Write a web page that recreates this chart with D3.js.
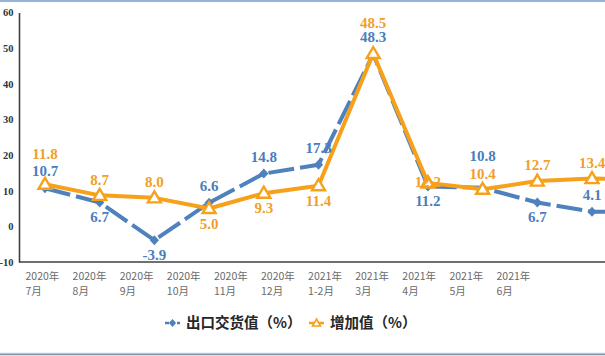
<!DOCTYPE html>
<html><head><meta charset="utf-8">
<script src="https://cdn.jsdelivr.net/npm/d3@7/dist/d3.min.js"></script>
<style>html,body{margin:0;padding:0;background:#fff;}svg{display:block;}</style>
</head><body>
<svg id="c" width="605" height="356"></svg>
<script>
// ---- data ----
const categories = ["2020年7月","2020年8月","2020年9月","2020年10月","2020年11月","2020年12月","2021年1-2月","2021年3月","2021年4月","2021年5月","2021年6月","2021年7月"];
const tickLabels = ["2020年7月","2020年8月","2020年9月","2020年10月","2020年11月","2020年12月","2021年1-2月","2021年3月","2021年4月","2021年5月","2021年6月"];
const exportValues = [10.7, 6.7, -3.9, 6.6, 14.8, 17.3, 48.3, 11.2, 10.8, 6.7, 4.1, 4.0];
const addedValues  = [11.8, 8.7, 8.0, 5.0, 9.3, 11.4, 48.5, 12.2, 10.4, 12.7, 13.4, 13.3];
const yTicks = [-10, 0, 10, 20, 30, 40, 50, 60];
const seriesNames = ["出口交货值（%）", "增加值（%）"];
// label placement codes (a = above, A = far above, b = below, c = on point)
const exportLabelPos = ["a","b","b","a","a","a","a","b","A","b","a"];
const addedLabelPos  = ["A","a","a","b","b","b","A","c","a","a","a"];

const blue = "#4f81bd", blueText = "#4a7ebb";
const orange = "#f7a11a", orangeText = "#f0a02a";
const hyphen = s => s.replace("\u2212", "-");

const svg = d3.select("#c");
// frame lines
svg.append("rect").attr("x",0).attr("y",0).attr("width",605).attr("height",2).attr("fill","#95b3d7");
svg.append("rect").attr("x",0).attr("y",352.5).attr("width",605).attr("height",1).attr("fill","#dbe5f1");
svg.append("rect").attr("x",0).attr("y",353.5).attr("width",605).attr("height",1.8).attr("fill","#8094ad");

const y = d3.scaleLinear().domain([-10, 60]).range([262, 12.5]);
const x = d3.scalePoint().domain(categories).range([45, 45 + 54.7 * 11]);
const xl = d3.scalePoint().domain(tickLabels).range([25, 25 + 47.1 * 10]);

// y axis
const yAxis = svg.append("g").attr("transform","translate(19,0)")
  .call(d3.axisLeft(y).tickValues(yTicks).tickSize(0).tickPadding(5.5).tickFormat(d => hyphen(d3.format("d")(d))));
yAxis.select(".domain").attr("stroke","#404040").attr("stroke-width",1.6);
yAxis.selectAll("text").attr("font-family","'Liberation Serif',serif").attr("font-weight","bold")
  .attr("font-size","10.5px").attr("fill","#333");

// x axis
const xAxis = svg.append("g").attr("transform","translate(0,262)")
  .call(d3.axisBottom(xl).tickSize(0).tickFormat(""));
xAxis.select(".domain").remove();
svg.append("line").attr("x1",19).attr("x2",605).attr("y1",262).attr("y2",262)
  .attr("stroke","#404040").attr("stroke-width",1.6);
xAxis.selectAll(".tick").each(function(d){
  const g = d3.select(this);
  const parts = d.split("年");
  const t = g.append("text").attr("text-anchor","start").attr("x",0)
    .attr("font-family","'Noto Sans CJK SC',sans-serif").attr("font-size","10.5px").attr("fill","#6a6a6a");
  t.append("tspan").attr("x",0).attr("y",17.8).text(parts[0]+"年");
  t.append("tspan").attr("x",0).attr("y",32.8).text(parts[1]);
});

// lines
const line = d3.line().x((d,i)=>x(categories[i])).y(d=>y(d));
svg.append("path").datum(exportValues).attr("d",line).attr("fill","none")
  .attr("stroke",blue).attr("stroke-width",4).attr("stroke-dasharray","26,6").attr("stroke-linejoin","round");
const diamond = "M0,-5L4.6,0L0,5L-4.6,0Z";
svg.append("g").selectAll("path").data(exportValues).join("path")
  .attr("d",diamond).attr("fill",blue)
  .attr("transform",(d,i)=>`translate(${x(categories[i])},${y(d)})`);

svg.append("path").datum(addedValues).attr("d",line).attr("fill","none")
  .attr("stroke",orange).attr("stroke-width",4).attr("stroke-linejoin","round");
const tri = "M0,-6.5L6.5,4.5L-6.5,4.5Z";
svg.append("g").selectAll("path").data(addedValues).join("path")
  .attr("d",tri).attr("fill","#fff").attr("stroke",orange).attr("stroke-width",2.4)
  .attr("transform",(d,i)=>`translate(${x(categories[i])},${y(d)})`);

// data labels
const offB = {a:-17, A:-32, b:14, c:-1};
const offO = {a:-16, A:-31, b:15, c:-1};
function labels(vals, pos, off, color){
  svg.append("g").selectAll("text").data(vals.slice(0,pos.length)).join("text")
    .attr("x",(d,i)=>x(categories[i]))
    .attr("y",(d,i)=>y(d)+off[pos[i]])
    .attr("dy","0.35em").attr("text-anchor","middle")
    .attr("font-family","'Liberation Serif',serif").attr("font-weight","bold").attr("font-size","15px")
    .attr("fill",color).text(d=>hyphen(d3.format(".1f")(d)));
}
labels(exportValues, exportLabelPos, offB, blueText);
labels(addedValues, addedLabelPos, offO, orangeText);
// marker outline drawn over a label placed on its point
svg.append("g").selectAll("path").data(addedValues.map((v,i)=>[v,i]).filter(p=>addedLabelPos[p[1]]==="c")).join("path")
  .attr("d",tri).attr("fill","#fff").attr("fill-opacity",0).attr("stroke",orange).attr("stroke-width",2.4)
  .attr("transform",p=>`translate(${x(categories[p[1]])},${y(p[0])})`);

// legend
const lg = svg.append("g").attr("transform","translate(0,323)");
lg.append("line").attr("x1",165).attr("x2",180).attr("y1",0).attr("y2",0)
  .attr("stroke",blue).attr("stroke-width",2.5).attr("stroke-dasharray","4,2");
lg.append("path").attr("d","M0,-4L3.6,0L0,4L-3.6,0Z").attr("fill",blue).attr("transform","translate(172.5,0)");
lg.append("text").attr("x",186).attr("y",0).attr("dy","0.36em")
  .attr("font-family","'Noto Sans CJK SC',sans-serif").attr("font-weight","bold").attr("font-size","14.5px")
  .attr("fill","#262626").text(seriesNames[0]);
lg.append("line").attr("x1",309).attr("x2",324).attr("y1",0).attr("y2",0)
  .attr("stroke",orange).attr("stroke-width",2.5);
lg.append("path").attr("d","M0,-4L4,3L-4,3Z").attr("fill","#fff").attr("stroke",orange).attr("stroke-width",1.6)
  .attr("transform","translate(316.5,0)");
lg.append("text").attr("x",330).attr("y",0).attr("dy","0.36em")
  .attr("font-family","'Noto Sans CJK SC',sans-serif").attr("font-weight","bold").attr("font-size","14.5px")
  .attr("fill","#262626").text(seriesNames[1]);
</script>
</body></html>
